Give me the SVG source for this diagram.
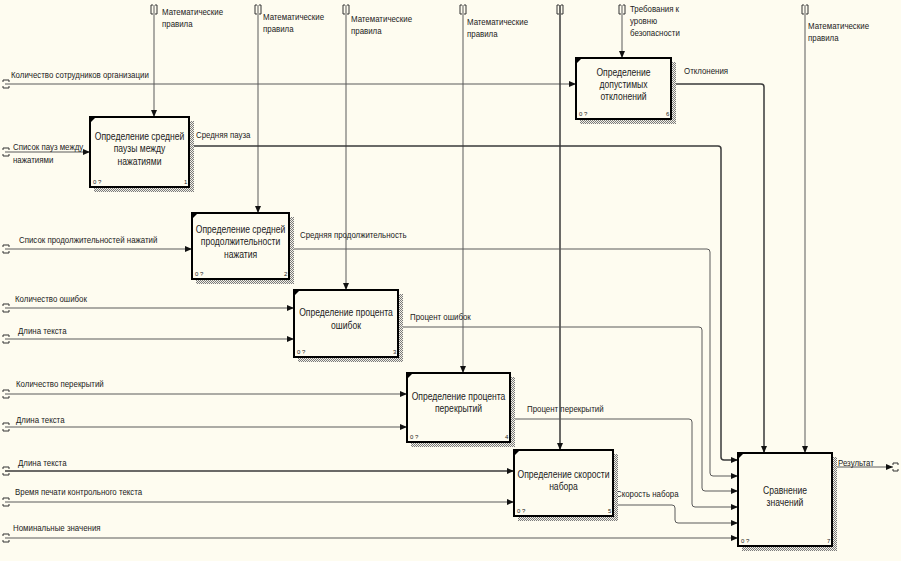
<svg xmlns="http://www.w3.org/2000/svg" width="901" height="561" viewBox="0 0 901 561">
<defs>
<pattern id="hatch" width="2" height="2" patternUnits="userSpaceOnUse">
<rect width="2" height="2" fill="#f4f2e8"/>
<rect width="1" height="1" fill="#7a7a7a"/>
<rect x="1" y="1" width="1" height="1" fill="#7a7a7a"/>
</pattern>
<marker id="arr" markerWidth="7" markerHeight="6" refX="7" refY="3" orient="auto" markerUnits="userSpaceOnUse">
<path d="M0,0 L7,3 L0,6 z" fill="#111"/>
</marker>
<style>
.bg{fill:#fefcf0}
.box{fill:#fefcf0;stroke:#000;stroke-width:2}
.sh{fill:url(#hatch)}
.ln{fill:none;stroke:#5a5a5a;stroke-width:1}
.thk{stroke:#3a3a3a;stroke-width:1.5}
.arw{marker-end:url(#arr)}
.tn{fill:none;stroke:#333;stroke-width:1}
.lbl{font-family:"Liberation Sans",Arial,sans-serif;font-size:9.5px;fill:#222}
.bt{font-family:"Liberation Sans",Arial,sans-serif;font-size:11px;fill:#222;text-anchor:middle}
.sm{font-family:"Liberation Sans",Arial,sans-serif;font-size:6px;fill:#222}
.cm{fill:#000}
</style>
</defs>
<rect class="bg" x="0" y="0" width="901" height="561"/>

<g id="connectors">
<path class="ln arw" d="M5,84 H576"/>
<path class="ln arw" d="M5,152 H90"/>
<path class="ln arw" d="M5,249 H192"/>
<path class="ln arw" d="M5,308 H294"/>
<path class="ln arw" d="M5,339 H294"/>
<path class="ln arw" d="M5,394 H407"/>
<path class="ln arw" d="M5,427 H407"/>
<path class="ln thk arw" d="M5,471 H514"/>
<path class="ln arw" d="M5,502 H514"/>
<path class="ln arw" d="M5,538 H738"/>
<path class="ln arw" d="M154,5 V117"/>
<path class="ln arw" d="M258,5 V213"/>
<path class="ln arw" d="M346,5 V290"/>
<path class="ln arw" d="M463,5 V373"/>
<path class="ln thk arw" d="M560,5 V450"/>
<path class="ln arw" d="M622,5 V58"/>
<path class="ln arw" d="M805,5 V453"/>
<path class="ln thk arw" d="M189,146 H718 Q721,146 721,149 V457 Q721,460 724,460 H738"/>
<path class="ln arw" d="M289,249 H707 Q710,249 710,252 V473 Q710,476 713,476 H738"/>
<path class="ln arw" d="M398,327 H699 Q702,327 702,330 V488 Q702,491 705,491 H738"/>
<path class="ln arw" d="M510,419 H689 Q692,419 692,422 V504 Q692,507 695,507 H738"/>
<path class="ln arw" d="M613,505 H672 Q675,505 675,508 V520 Q675,523 678,523 H738"/>
<path class="ln thk arw" d="M671,84 H761 Q764,84 764,87 V453"/>
<path class="ln arw" d="M832,467 H893"/>
<path class="tn" d="M153,5 h-2 v9 h2 M155,5 h2 v9 h-2"/>
<path class="tn" d="M257,5 h-2 v9 h2 M259,5 h2 v9 h-2"/>
<path class="tn" d="M345,5 h-2 v9 h2 M347,5 h2 v9 h-2"/>
<path class="tn" d="M462,5 h-2 v9 h2 M464,5 h2 v9 h-2"/>
<path class="tn" d="M559,5 h-2 v9 h2 M561,5 h2 v9 h-2"/>
<path class="tn" d="M621,5 h-2 v9 h2 M623,5 h2 v9 h-2"/>
<path class="tn" d="M804,5 h-2 v9 h2 M806,5 h2 v9 h-2"/>
<path class="tn" d="M3,82 v-2 h6 v2 M3,86 v2 h6 v-2"/>
<path class="tn" d="M3,150 v-2 h6 v2 M3,154 v2 h6 v-2"/>
<path class="tn" d="M3,247 v-2 h6 v2 M3,251 v2 h6 v-2"/>
<path class="tn" d="M3,306 v-2 h6 v2 M3,310 v2 h6 v-2"/>
<path class="tn" d="M3,337 v-2 h6 v2 M3,341 v2 h6 v-2"/>
<path class="tn" d="M3,392 v-2 h6 v2 M3,396 v2 h6 v-2"/>
<path class="tn" d="M3,425 v-2 h6 v2 M3,429 v2 h6 v-2"/>
<path class="tn" d="M3,469 v-2 h6 v2 M3,473 v2 h6 v-2"/>
<path class="tn" d="M3,500 v-2 h6 v2 M3,504 v2 h6 v-2"/>
<path class="tn" d="M3,536 v-2 h6 v2 M3,540 v2 h6 v-2"/>
<path class="tn" d="M893,465 v-2 h5 v2 M893,469 v2 h5 v-2"/>
<text class="lbl" transform="matrix(0.83 0 0 1 162 15)">Математические</text>
<text class="lbl" transform="matrix(0.83 0 0 1 162 27)">правила</text>
<text class="lbl" transform="matrix(0.83 0 0 1 263 20)">Математические</text>
<text class="lbl" transform="matrix(0.83 0 0 1 263 32)">правила</text>
<text class="lbl" transform="matrix(0.83 0 0 1 351 22)">Математические</text>
<text class="lbl" transform="matrix(0.83 0 0 1 351 34)">правила</text>
<text class="lbl" transform="matrix(0.83 0 0 1 467 25)">Математические</text>
<text class="lbl" transform="matrix(0.83 0 0 1 467 37)">правила</text>
<text class="lbl" transform="matrix(0.83 0 0 1 630 12)">Требования к</text>
<text class="lbl" transform="matrix(0.83 0 0 1 630 24)">уровню</text>
<text class="lbl" transform="matrix(0.83 0 0 1 630 36)">безопасности</text>
<text class="lbl" transform="matrix(0.83 0 0 1 808 29)">Математические</text>
<text class="lbl" transform="matrix(0.83 0 0 1 808 41)">правила</text>
<text class="lbl" transform="matrix(0.83 0 0 1 11 78)">Количество сотрудников организации</text>
<text class="lbl" transform="matrix(0.83 0 0 1 13 150)">Список пауз между</text>
<text class="lbl" transform="matrix(0.83 0 0 1 13 163)">нажатиями</text>
<text class="lbl" transform="matrix(0.83 0 0 1 196 138)">Средняя пауза</text>
<text class="lbl" transform="matrix(0.83 0 0 1 19 243)">Список продолжительностей нажатий</text>
<text class="lbl" transform="matrix(0.83 0 0 1 300 238)">Средняя продолжительность</text>
<text class="lbl" transform="matrix(0.83 0 0 1 15 302)">Количество ошибок</text>
<text class="lbl" transform="matrix(0.83 0 0 1 18 334)">Длина текста</text>
<text class="lbl" transform="matrix(0.83 0 0 1 410 320)">Процент ошибок</text>
<text class="lbl" transform="matrix(0.83 0 0 1 16 387)">Количество перекрытий</text>
<text class="lbl" transform="matrix(0.83 0 0 1 16 423)">Длина текста</text>
<text class="lbl" transform="matrix(0.83 0 0 1 527 412)">Процент перекрытий</text>
<text class="lbl" transform="matrix(0.83 0 0 1 18 466)">Длина текста</text>
<text class="lbl" transform="matrix(0.83 0 0 1 15 495)">Время печати контрольного текста</text>
<text class="lbl" transform="matrix(0.83 0 0 1 616 497)">Скорость набора</text>
<text class="lbl" transform="matrix(0.83 0 0 1 13 531)">Номинальные значения</text>
<text class="lbl" transform="matrix(0.83 0 0 1 838 466)">Результат</text>
<text class="lbl" transform="matrix(0.83 0 0 1 684 74)">Отклонения</text>
</g>

<g id="node1">
<rect class="sh" x="94" y="121" width="100" height="71"/>
<rect class="box" x="90" y="117" width="99" height="70"/>
<path class="cm" d="M91,118 h4 l-4,4 z"/>
<text class="bt" transform="matrix(0.78 0 0 1 139.5 140)">Определение средней</text>
<text class="bt" transform="matrix(0.78 0 0 1 139.5 152)">паузы между</text>
<text class="bt" transform="matrix(0.78 0 0 1 139.5 165)">нажатиями</text>
<text class="sm" x="93" y="184">0 ?</text>
<text class="sm" x="184" y="184">1</text>
</g>

<g id="node2">
<rect class="sh" x="196" y="217" width="98" height="67"/>
<rect class="box" x="192" y="213" width="97" height="66"/>
<path class="cm" d="M193,214 h4 l-4,4 z"/>
<text class="bt" transform="matrix(0.78 0 0 1 240.5 233)">Определение средней</text>
<text class="bt" transform="matrix(0.78 0 0 1 240.5 245)">продолжительности</text>
<text class="bt" transform="matrix(0.78 0 0 1 240.5 258)">нажатия</text>
<text class="sm" x="195" y="276">0 ?</text>
<text class="sm" x="284" y="276">2</text>
</g>

<g id="node3">
<rect class="sh" x="298" y="294" width="105" height="68"/>
<rect class="box" x="294" y="290" width="104" height="67"/>
<path class="cm" d="M295,291 h4 l-4,4 z"/>
<text class="bt" transform="matrix(0.78 0 0 1 346 316)">Определение процента</text>
<text class="bt" transform="matrix(0.78 0 0 1 346 329)">ошибок</text>
<text class="sm" x="297" y="354">0 ?</text>
<text class="sm" x="393" y="354">3</text>
</g>

<g id="node4">
<rect class="sh" x="411" y="377" width="104" height="70"/>
<rect class="box" x="407" y="373" width="103" height="69"/>
<path class="cm" d="M408,374 h4 l-4,4 z"/>
<text class="bt" transform="matrix(0.78 0 0 1 458.5 400)">Определение процента</text>
<text class="bt" transform="matrix(0.78 0 0 1 458.5 412)">перекрытий</text>
<text class="sm" x="410" y="439">0 ?</text>
<text class="sm" x="505" y="439">4</text>
</g>

<g id="node5">
<rect class="sh" x="518" y="454" width="100" height="67"/>
<rect class="box" x="514" y="450" width="99" height="66"/>
<path class="cm" d="M515,451 h4 l-4,4 z"/>
<text class="bt" transform="matrix(0.78 0 0 1 563.5 478)">Определение скорости</text>
<text class="bt" transform="matrix(0.78 0 0 1 563.5 490)">набора</text>
<text class="sm" x="517" y="513">0 ?</text>
<text class="sm" x="608" y="513">5</text>
</g>

<g id="node6">
<rect class="sh" x="580" y="62" width="96" height="62"/>
<rect class="box" x="576" y="58" width="95" height="61"/>
<path class="cm" d="M577,59 h4 l-4,4 z"/>
<text class="bt" transform="matrix(0.78 0 0 1 623.5 76)">Определение</text>
<text class="bt" transform="matrix(0.78 0 0 1 623.5 88)">допустимых</text>
<text class="bt" transform="matrix(0.78 0 0 1 623.5 100)">отклонений</text>
<text class="sm" x="579" y="116">0 ?</text>
<text class="sm" x="666" y="116">6</text>
</g>

<g id="node7">
<rect class="sh" x="742" y="457" width="95" height="94"/>
<rect class="box" x="738" y="453" width="94" height="93"/>
<path class="cm" d="M739,454 h4 l-4,4 z"/>
<text class="bt" transform="matrix(0.78 0 0 1 785 494)">Сравнение</text>
<text class="bt" transform="matrix(0.78 0 0 1 785 506)">значений</text>
<text class="sm" x="741" y="543">0 ?</text>
<text class="sm" x="827" y="543">7</text>
</g>
</svg>
